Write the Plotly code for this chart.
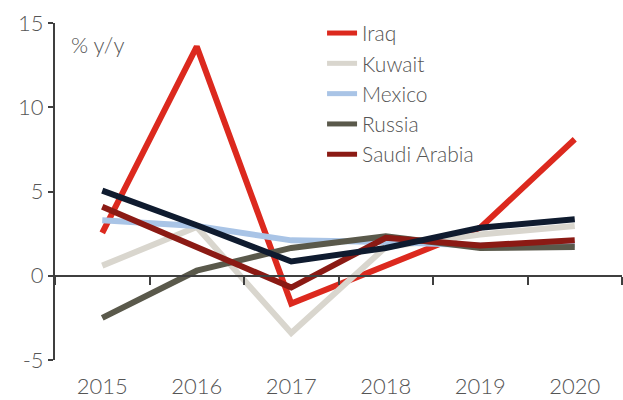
import plotly.graph_objects as go

years = ["2015", "2016", "2017", "2018", "2019", "2020"]

iraq = [2.55, 13.6, -1.65, 0.6, 2.85, 8.1]
kuwait = [0.6, 2.9, -3.4, 1.7, 2.45, 2.95]
mexico = [3.3, 2.95, 2.1, 2.0, 1.8, 1.85]
russia = [-2.5, 0.3, 1.65, 2.35, 1.65, 1.7]
saudi_arabia = [4.1, 1.7, -0.7, 2.25, 1.8, 2.1]
other = [5.05, 3.0, 0.85, 1.65, 2.85, 3.35]

y_ticks = [-5, 0, 5, 10, 15]
y_tick_text = ["-5", "0", "5", "10", "15"]

series = [
    ("Iraq", iraq, "#dc291e"),
    ("Kuwait", kuwait, "#d9d6ce"),
    ("Mexico", mexico, "#a9c4e6"),
    ("Russia", russia, "#5a594b"),
    ("Saudi Arabia", saudi_arabia, "#8b1a14"),
]

FONT = dict(family="Lato", size=22, color="#555555", weight=300)
LEGEND_FONT = dict(family="Lato", size=21, color="#555555", weight=300)
AXIS_COLOR = "#3f3f3f"

fig = go.Figure()
for name, values, color in series:
    fig.add_trace(go.Scatter(x=years, y=values, name=name, mode="lines",
                             line=dict(color=color, width=6)))

# unlabelled dark series, plotted on the overlay axis that carries the zero line
fig.add_trace(go.Scatter(x=years, y=other, name="Other", mode="lines", showlegend=False,
                         line=dict(color="#0f1b2f", width=6), xaxis="x2"))

fig.update_layout(
    width=623, height=400,
    margin=dict(l=55, r=1, t=23, b=40),
    plot_bgcolor="white", paper_bgcolor="white",
    font=FONT,
    showlegend=True,
    legend=dict(x=0.471, y=1.03, xanchor="left", yanchor="top",
                font=LEGEND_FONT, bgcolor="rgba(0,0,0,0)",
                tracegroupgap=0, itemsizing="constant"),
    xaxis=dict(type="category", range=[-0.5, 5.5], showline=False, showgrid=False,
               zeroline=False, ticks="outside", ticklen=7, tickcolor="rgba(0,0,0,0)",
               tickfont=FONT, automargin=False),
    xaxis2=dict(type="category", overlaying="x", matches="x", anchor="free", position=0.25,
                showline=True, linecolor=AXIS_COLOR, linewidth=2,
                ticks="outside", tickson="boundaries", ticklen=8, tickwidth=2,
                tickcolor=AXIS_COLOR, showticklabels=False, showgrid=False),
    yaxis=dict(range=[-5, 15], tickvals=y_ticks, ticktext=y_tick_text,
               showgrid=False, zeroline=False,
               showline=True, linecolor=AXIS_COLOR, linewidth=2,
               ticks="outside", ticklen=5, tickwidth=2, tickcolor=AXIS_COLOR,
               tickfont=FONT, automargin=False),
)

fig.add_annotation(text="% y/y", xref="paper", yref="paper", x=0.024, y=0.935,
                   xanchor="left", yanchor="middle", showarrow=False, font=FONT)

# the page's default body margin would push the 623x400 figure out of the window
fig.write_html("out.html", config={"displayModeBar": False},
               post_script="document.body.style.margin = '0';")
